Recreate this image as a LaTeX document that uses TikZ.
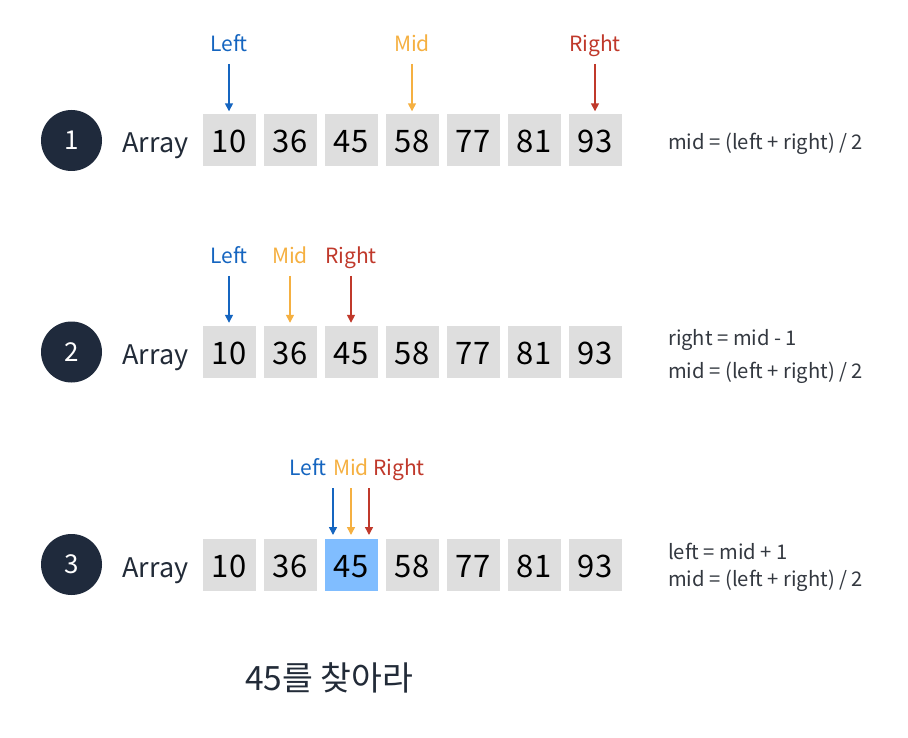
\documentclass[tikz,border=0pt]{standalone}
\usepackage{fontspec}
\setmainfont{Noto Sans CJK KR}
\usetikzlibrary{arrows.meta}
\definecolor{navy}{HTML}{1F2A3C}
\definecolor{txt}{HTML}{222B38}
\definecolor{cellgray}{HTML}{DEDEDE}
\definecolor{hlblue}{HTML}{80BDFF}
\definecolor{cblue}{HTML}{1565C0}
\definecolor{corange}{HTML}{F5B041}
\definecolor{cred}{HTML}{C0392B}
\definecolor{ftxt}{HTML}{333840}
\begin{document}
\begin{tikzpicture}[x=1pt,y=-1pt,
  circ/.style={circle,fill=navy,minimum size=61pt,inner sep=0pt},
  circtxt/.style={anchor=base,text=white,inner sep=0pt,font=\fontsize{26}{26}\selectfont},
  arrtxt/.style={anchor=base,text=txt,inner sep=0pt,font=\fontsize{27}{27}\selectfont},
  cell/.style={fill=cellgray,minimum width=53pt,minimum height=52pt,inner sep=0pt},
  celltxt/.style={anchor=base,text=black,inner sep=0pt,font=\fontsize{31}{31}\selectfont},
  hl33/.style={fill=hlblue},
  lab/.style={anchor=base,inner sep=0pt,font=\fontsize{21}{21}\selectfont},
  ptr/.style={line width=1.5pt,-{Triangle[length=8pt,width=8pt]}},
  form/.style={anchor=base west,text=ftxt,inner sep=0pt,font=\fontsize{20.2}{20.2}\selectfont},
]
\useasboundingbox (0,0) rectangle (908,738);
\fill[white] (0,0) rectangle (908,738);

\foreach \r/\y in {1/140.5,2/352,3/564.5}{
  \node[circ] (c\r) at (71.5,\y) {};
  \node[circtxt] (cn\r) at (71.5,\y+9) {\r};
  \node[arrtxt] (a\r) at (155.5,\y+12.5) {Array};
  \foreach \v [count=\i] in {10,36,45,58,77,81,93}{
    \node[cell,hl\r\i/.try] (b\r\i) at ({229+61*(\i-1)},\y) {};
    \node[celltxt] (t\r\i) at ({229+61*(\i-1)},\y+12.5) {\v};
  }
}

% row 1 pointers
\node[lab,text=cblue] (l1) at (229,51.7) {Left};
\node[lab,text=corange] (m1) at (412,51.7) {Mid};
\node[lab,text=cred] (r1) at (595,51.7) {Right};
\coordinate (sl1) at (229,64);
\coordinate (sm1) at (412,64);
\coordinate (sr1) at (595,64);
\draw[ptr,cblue] (sl1) -- ([yshift=3pt]b11.north);
\draw[ptr,corange] (sm1) -- ([yshift=3pt]b14.north);
\draw[ptr,cred] (sr1) -- ([yshift=3pt]b17.north);

% row 2 pointers
\node[lab,text=cblue] (l2) at (229,263.3) {Left};
\node[lab,text=corange] (m2) at (290,263.3) {Mid};
\node[lab,text=cred] (r2) at (351,263.3) {Right};
\coordinate (sl2) at (229,276);
\coordinate (sm2) at (290,276);
\coordinate (sr2) at (351,276);
\draw[ptr,cblue] (sl2) -- ([yshift=3pt]b21.north);
\draw[ptr,corange] (sm2) -- ([yshift=3pt]b22.north);
\draw[ptr,cred] (sr2) -- ([yshift=3pt]b23.north);

% row 3 pointers
\node[lab,text=cblue] (l3) at (308,475) {Left};
\node[lab,text=corange] (m3) at (351,475) {Mid};
\node[lab,text=cred] (r3) at (399,475) {Right};
\coordinate (sl3) at (333,488);
\coordinate (sm3) at (351,488);
\coordinate (sr3) at (369,488);
\coordinate (el3) at (333,535);
\coordinate (em3) at (351,535);
\coordinate (er3) at (369,535);
\draw[ptr,cblue] (sl3) -- (el3);
\draw[ptr,corange] (sm3) -- (em3);
\draw[ptr,cred] (sr3) -- (er3);

% formulas
\node[form] (f1) at (668,149.5) {mid = (left + right) / 2};
\node[form] (f2a) at (668,345) {right = mid - 1};
\node[form] (f2b) at (668,378.5) {mid = (left + right) / 2};
\node[form] (f3a) at (668,559) {left = mid + 1};
\node[form] (f3b) at (668,586.5) {mid = (left + right) / 2};

% bottom caption
\node[anchor=base,text=txt,inner sep=0pt,font=\fontsize{33.5}{33.5}\selectfont] (cap) at (329,690) {45를 찾아라};
\end{tikzpicture}
\end{document}
